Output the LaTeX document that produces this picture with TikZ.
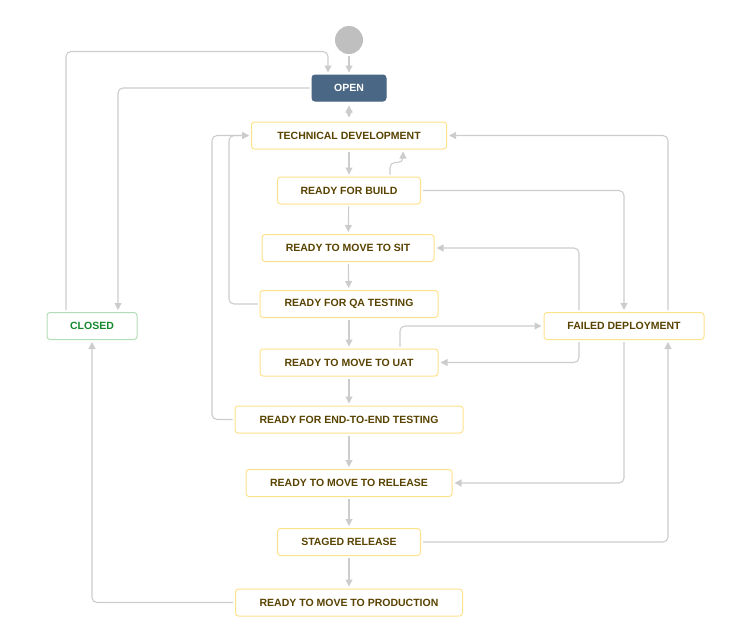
\documentclass[tikz,border=0pt]{standalone}
\usepackage{fontspec}
\setmainfont{Liberation Sans}
\usepackage{tikz}
\usetikzlibrary{arrows.meta,shapes}
\usepackage{xcolor}
\definecolor{wfline}{HTML}{CCCCCC}
\definecolor{wfyellow}{HTML}{FFE28C}
\definecolor{wftext}{HTML}{594300}
\definecolor{wfgreen}{HTML}{14892C}
\definecolor{wfgreenline}{HTML}{B3DDB9}
\definecolor{wfblue}{HTML}{4A6785}
\definecolor{wfgrey}{HTML}{BFBFBF}
\tikzstyle{status} = [draw=wfyellow, fill=white, rounded corners=3pt, line width=1pt, minimum height=27pt, inner xsep=4pt, text=wftext, font=\bfseries\fontsize{10.5}{12}\selectfont]
\tikzstyle{done} = [status, draw=wfgreenline, text=wfgreen]
\tikzstyle{todo} = [status, draw=wfblue, fill=wfblue, text=white, minimum height=26pt]
\tikzstyle{arrow} = [line width=1.1pt, draw=wfline, -{Triangle[width=7pt,length=7pt]}, rounded corners=5pt, shorten >=2pt, shorten <=2pt]

\begin{document}
\begin{tikzpicture}[x=1pt, y=-1pt]
\useasboundingbox (0,0) rectangle (737,641);
% Start
\node[circle, fill=wfgrey, minimum size=28pt, inner sep=0pt] (start) at (349,40) {};

% Statuses
\node[todo, minimum width=74pt] (open) at (349,88) {OPEN};
\node[status, minimum width=195pt] (techdev) at (349,135.5) {TECHNICAL DEVELOPMENT};
\node[status, minimum width=143pt] (build) at (349,190.5) {READY FOR BUILD};
\node[status, minimum width=172pt] (sit) at (348,248) {READY TO MOVE TO SIT};
\node[status, minimum width=178pt] (qa) at (349,304) {READY FOR QA TESTING};
\node[status, minimum width=178pt] (uat) at (349,362.5) {READY TO MOVE TO UAT};
\node[status, minimum width=228pt] (e2e) at (349,419.5) {READY FOR END-TO-END TESTING};
\node[status, minimum width=206pt] (release) at (349,483) {READY TO MOVE TO RELEASE};
\node[status, minimum width=143pt] (staged) at (349,542) {STAGED RELEASE};
\node[status, minimum width=227pt] (prod) at (349,602.5) {READY TO MOVE TO PRODUCTION};
\node[done, minimum width=90pt] (closed) at (92,326) {CLOSED};
\node[status, minimum width=160pt] (failed) at (624,326) {FAILED DEPLOYMENT};

% Main line
\draw[arrow] (start) -- (open);
\draw[arrow, {Triangle[width=7pt,length=7pt]}-{Triangle[width=7pt,length=7pt]}, shorten >=4pt, shorten <=4pt] (open) -- (techdev);
\draw[arrow] (techdev) -- (build);
\draw[arrow] (build) -- (sit);
\draw[arrow] (sit) -- (qa);
\draw[arrow] (qa) -- (uat);
\draw[arrow] (uat) -- (e2e);
\draw[arrow] (e2e) -- (release);
\draw[arrow] (release) -- (staged);
\draw[arrow] (staged) -- (prod);

% Closed
\draw[arrow] ([xshift=-26pt]closed.north) |- ([xshift=-21pt,yshift=23pt]open.north) -- ([xshift=-21pt]open.north);
\draw[arrow] (open.west) -| ([xshift=26pt]closed.north);
\draw[arrow] (prod.west) -| (closed.south);

% Back to development
\draw[arrow] ([xshift=41pt]build.north) |- ([xshift=54pt,yshift=-13pt]techdev.south) -- ([xshift=54pt]techdev.south);
\draw[arrow] (qa.west) -| ([xshift=-22pt]techdev.west) -- (techdev.west);
\draw[arrow] (e2e.west) -| ([xshift=-39pt]techdev.west) -- (techdev.west);

% Failed deployment
\draw[arrow] (build.east) -| (failed.north);
\draw[arrow] ([xshift=51pt]uat.north) |- (failed.west);
\draw[arrow] (staged.east) -| ([xshift=44pt]failed.south);
\draw[arrow] ([xshift=-45pt]failed.north) |- (sit.east);
\draw[arrow] ([xshift=-45pt]failed.south) |- (uat.east);
\draw[arrow] ([xshift=44pt]failed.north) |- (techdev.east);
\draw[arrow] (failed.south) |- (release.east);
\end{tikzpicture}
\end{document}
